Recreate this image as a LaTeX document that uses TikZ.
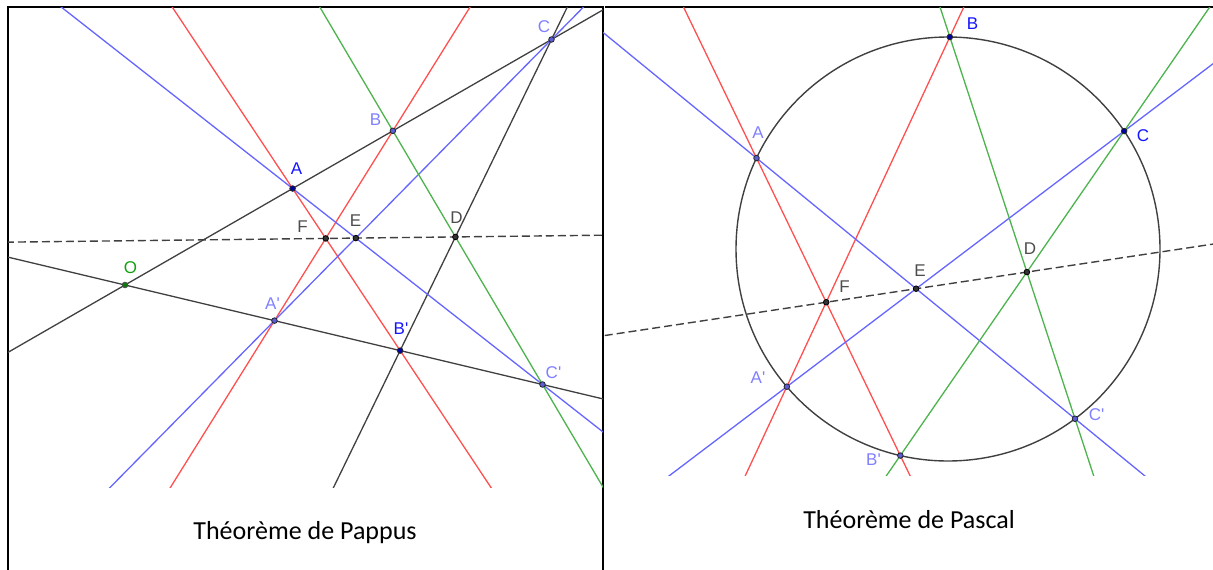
\documentclass[tikz,border=0pt]{standalone}
\usepackage{fontspec}
\setmainfont{Carlito}
\newfontfamily\labelfont{Liberation Sans}
\usepackage{xcolor}
\usetikzlibrary{calc}
\definecolor{lineblue}{HTML}{6666FF}
\definecolor{linered}{HTML}{FF5050}
\definecolor{linegreen}{HTML}{4DB34D}
\definecolor{linedark}{HTML}{404040}
\definecolor{ptblue}{HTML}{5C5CD6}
\definecolor{ptnavy}{HTML}{0000A8}
\definecolor{ptgreen}{HTML}{0A7A0A}
\definecolor{ptgray}{HTML}{333333}
\definecolor{txtlight}{HTML}{8080FF}
\definecolor{txtblue}{HTML}{1414FF}
\definecolor{txtgreen}{HTML}{10A010}
\definecolor{txtgray}{HTML}{4D4D4D}

\begin{document}
\begin{tikzpicture}[
    x=1pt, y=-1pt,
    full/.style={shorten <=-800pt, shorten >=-800pt},
    bline/.style={full, lineblue, line width=1.3pt},
    rline/.style={full, linered, line width=1.3pt},
    gline/.style={full, linegreen, line width=1.3pt},
    kline/.style={full, linedark, line width=1.3pt},
    dline/.style={full, linedark, line width=1.4pt, dash pattern=on 8pt off 4pt},
    circ/.style={linedark, line width=1.4pt},
    frame/.style={black, line width=1.2pt},
    ptlight/.style={fill=ptblue, draw=black!85, line width=0.8pt},
    ptdark/.style={fill=ptnavy, draw=black!85, line width=0.8pt},
    ptgrn/.style={fill=ptgreen, draw=black!70, line width=0.8pt},
    ptblack/.style={fill=ptgray, draw=black, line width=0.8pt},
    lbl/.style={font=\labelfont\fontsize{17}{17}\selectfont, inner sep=0pt},
    caption/.style={font=\fontsize{26}{30}\selectfont, anchor=base}
  ]
  \useasboundingbox (0,0) rectangle (1213,570);

  % frames
  \draw[frame] (8,487) -- (8,7) -- (603,7) -- (603,487);
  \draw[frame] (8,487) -- (8,570);
  \draw[frame, line width=2.6pt] (603,487) -- (603,570);
  \draw[frame] (605,7) -- (1213,7);

  % Pappus
  \begin{scope}
    \clip (8,7) rectangle (603,487);
    \coordinate (pO) at (125,285);
    \coordinate (pC) at (551.5,39.5);
    \coordinate (pCp) at (542.5,384.5);
    \coordinate (pA) at ($(pO)!0.393!(pC)$);
    \coordinate (pB) at ($(pO)!0.628!(pC)$);
    \coordinate (pAp) at ($(pO)!0.358!(pCp)$);
    \coordinate (pBp) at ($(pO)!0.659!(pCp)$);
    \coordinate (pF) at (intersection of pA--pBp and pAp--pB);
    \coordinate (pE) at (intersection of pA--pCp and pAp--pC);
    \coordinate (pD) at (intersection of pB--pCp and pBp--pC);

    \draw[kline] (pO) -- (pC);
    \draw[kline] (pO) -- (pCp);
    \draw[kline] (pBp) -- (pC);
    \draw[rline] (pA) -- (pBp);
    \draw[rline] (pAp) -- (pB);
    \draw[bline] (pA) -- (pCp);
    \draw[bline] (pAp) -- (pC);
    \draw[gline] (pB) -- (pCp);
    \draw[dline] (pF) -- (pD);
  \end{scope}

  \path[ptgrn] (pO) circle (2.8);
  \path[ptdark] (pA) circle (2.8);
  \path[ptlight] (pB) circle (2.8);
  \path[ptlight] (pC) circle (2.8);
  \path[ptlight] (pAp) circle (2.8);
  \path[ptdark] (pBp) circle (2.8);
  \path[ptlight] (pCp) circle (2.8);
  \path[ptblack] (pD) circle (2.8);
  \path[ptblack] (pE) circle (2.8);
  \path[ptblack] (pF) circle (2.8);

  \node[lbl, txtblue] (lpA) at (296.5,169) {A};
  \node[lbl, txtlight] (lpB) at (375.5,120) {B};
  \node[lbl, txtlight] (lpC) at (544,27) {C};
  \node[lbl, txtgreen] (lpO) at (130.5,268) {O};
  \node[lbl, txtlight] (lpAp) at (272.5,303.5) {A'};
  \node[lbl, txtblue] (lpBp) at (401,329) {B'};
  \node[lbl, txtlight] (lpCp) at (553.5,372.5) {C'};
  \node[lbl, txtgray] (lpD) at (456.5,218) {D};
  \node[lbl, txtgray] (lpE) at (355.5,220.5) {E};
  \node[lbl, txtgray] (lpF) at (302.5,227) {F};

  % Pascal
  \begin{scope}
    \clip (603,7) rectangle (1213,475);
    \coordinate (cO) at (948,249);
    \coordinate (cA) at ($(cO)+(205.4:212)$);
    \coordinate (cB) at ($(cO)+(270.5:212)$);
    \coordinate (cC) at ($(cO)+(326.2:212)$);
    \coordinate (cAp) at ($(cO)+(139.5:212)$);
    \coordinate (cBp) at ($(cO)+(103:212)$);
    \coordinate (cCp) at ($(cO)+(53.2:212)$);
    \coordinate (cF) at (intersection of cA--cBp and cB--cAp);
    \coordinate (cE) at (intersection of cA--cCp and cC--cAp);
    \coordinate (cD) at (intersection of cB--cCp and cC--cBp);

    \draw[circ] (cO) circle (212);
    \draw[rline] (cA) -- (cBp);
    \draw[rline] (cB) -- (cAp);
    \draw[bline] (cA) -- (cCp);
    \draw[bline] (cC) -- (cAp);
    \draw[gline] (cB) -- (cCp);
    \draw[gline] (cC) -- (cBp);
    \draw[dline] (cF) -- (cD);
  \end{scope}

  \path[ptlight] (cA) circle (2.8);
  \path[ptdark] (cB) circle (2.8);
  \path[ptdark] (cC) circle (2.8);
  \path[ptlight] (cAp) circle (2.8);
  \path[ptlight] (cBp) circle (2.8);
  \path[ptlight] (cCp) circle (2.8);
  \path[ptblack] (cD) circle (2.8);
  \path[ptblack] (cE) circle (2.8);
  \path[ptblack] (cF) circle (2.8);

  \node[lbl, txtlight] (lcA) at (758,133) {A};
  \node[lbl, txtblue] (lcB) at (972.5,24) {B};
  \node[lbl, txtblue] (lcC) at (1143,136) {C};
  \node[lbl, txtlight] (lcAp) at (758,378) {A'};
  \node[lbl, txtlight] (lcBp) at (873.5,460) {B'};
  \node[lbl, txtlight] (lcCp) at (1096.5,414.5) {C'};
  \node[lbl, txtgray] (lcD) at (1030,249) {D};
  \node[lbl, txtgray] (lcE) at (920,271) {E};
  \node[lbl, txtgray] (lcF) at (844.5,287) {F};

  % captions
  \node[caption] (capPappus) at (305,539.5) {Théorème de Pappus};
  \node[caption] (capPascal) at (909,528) {Théorème de Pascal};
\end{tikzpicture}
\end{document}
